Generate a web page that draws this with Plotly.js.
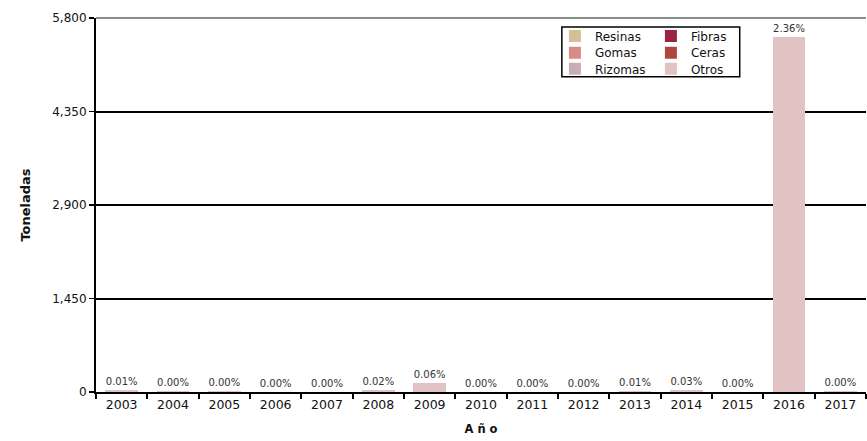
<!DOCTYPE html>
<html>
<head>
<meta charset="utf-8">
<script src="https://cdn.plot.ly/plotly-3.0.1.min.js"></script>
<style>html,body{margin:0;padding:0;background:#fff;}#chart{width:867px;height:441px;}</style>
</head>
<body>
<div id="chart"></div>
<script>
const years = ["2003","2004","2005","2006","2007","2008","2009","2010","2011","2012","2013","2014","2015","2016","2017"];
const resinas = [0,0,0,0,0,0,0,0,0,0,0,0,0,0,0];
const fibras  = [0,0,0,0,0,0,0,0,0,0,0,0,0,0,0];
const gomas   = [0,0,0,0,0,0,0,0,0,0,0,0,0,0,0];
const ceras   = [0,0,0,0,0,0,0,0,0,0,0,0,0,0,0];
const rizomas = [0,0,0,0,0,0,0,0,0,0,0,0,0,0,0];
const otros   = [25,10,10,2,2,30,145,2,3,3,20,28,3,5500,12];
const pctLabels = ["0.01%","0.00%","0.00%","0.00%","0.00%","0.02%","0.06%","0.00%","0.00%","0.00%","0.01%","0.03%","0.00%","2.36%","0.00%"];
const yTicks = [0,1450,2900,4350,5800];

const FONT = "DejaVu Sans, sans-serif";
function mk(name, vals, color, legend){
  return {type:'bar', name:name, x:years, y:vals, marker:{color:color}, legend:legend, hoverinfo:'skip'};
}
const otrosTrace = mk('Otros', otros, '#e2c3c4', 'legend3');
otrosTrace.text = pctLabels;
otrosTrace.textposition = 'outside';
otrosTrace.constraintext = 'none';
otrosTrace.cliponaxis = false;
otrosTrace.textfont = {family:FONT, size:10, color:'#333333'};

const data = [
  mk('Resinas', resinas, '#d6bf96', 'legend'),
  mk('Fibras', fibras, '#9b2247', 'legend'),
  mk('Gomas', gomas, '#d78a86', 'legend2'),
  mk('Ceras', ceras, '#b0463e', 'legend2'),
  mk('Rizomas', rizomas, '#c9adb4', 'legend3'),
  otrosTrace
];

const legendCommon = {orientation:'h', yanchor:'middle', xanchor:'left', x:0.596, bgcolor:'rgba(0,0,0,0)',
  borderwidth:0, font:{family:FONT, size:12, color:'#111'}, entrywidth:51, entrywidthmode:'pixels',
  traceorder:'normal', itemclick:false};

const layout = {
  width:867, height:441,
  margin:{l:96, r:1, t:18, b:49},
  paper_bgcolor:'#ffffff', plot_bgcolor:'#ffffff',
  barmode:'stack', bargap:0.36,
  font:{family:FONT, color:'#111'},
  showlegend:true,
  legend:Object.assign({}, legendCommon, {y:0.952}),
  legend2:Object.assign({}, legendCommon, {y:0.907}),
  legend3:Object.assign({}, legendCommon, {y:0.864}),
  xaxis:{
    type:'category', tickson:'boundaries', ticks:'outside', ticklen:5, tickwidth:2, tickcolor:'#000',
    showline:true, linecolor:'#000', linewidth:2, showgrid:false,
    tickfont:{family:FONT, size:12.5, color:'#111'},
    title:{text:'<b>A ñ o</b>', font:{family:FONT, size:11.5, color:'#111'}, standoff:14},
    automargin:false
  },
  yaxis:{
    range:[0,5800], tickvals:yTicks, tickformat:',d', ticks:'outside', ticklen:5, tickwidth:1.5, tickcolor:'#000',
    showline:true, linecolor:'#000', linewidth:2, showgrid:true, gridcolor:'#000', gridwidth:2,
    zeroline:false,
    tickfont:{family:FONT, size:12, color:'#111'},
    title:{text:'<b>Toneladas</b>', font:{family:FONT, size:13, color:'#111'}, standoff:19},
    automargin:false
  },
  shapes:[
    {type:'line', xref:'paper', yref:'paper', x0:0, x1:1, y0:1, y1:1, line:{color:'#8c8c8c', width:2}, layer:'above'},
    {type:'rect', xref:'paper', yref:'paper', x0:0.605, x1:0.836, y0:0.843, y1:0.976, line:{color:'#000', width:1.5}, fillcolor:'rgba(0,0,0,0)', layer:'above'}
  ]
};

Plotly.newPlot('chart', data, layout, {displayModeBar:false, staticPlot:true});
</script>
</body>
</html>
